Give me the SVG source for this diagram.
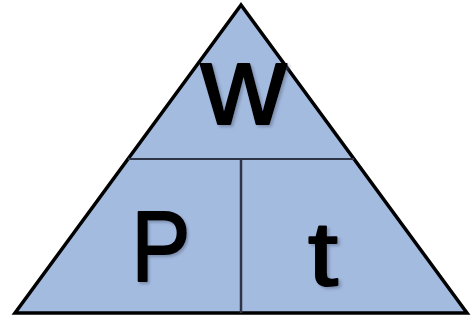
<svg xmlns="http://www.w3.org/2000/svg" width="471" height="320" viewBox="0 0 471 320">
  <defs>
    <style>
      .tri { fill: #a4bbe0; stroke: #000; stroke-width: 3.5; stroke-linejoin: miter; }
      .div { stroke: #2e3546; fill: none; }
      .lbl { font-family: "Liberation Sans", Arial, sans-serif; fill: #000; stroke: #000; stroke-width: 2; stroke-linejoin: round; text-anchor: middle; filter: url(#sh); }
    </style>
    <filter id="sh" x="-20%" y="-20%" width="150%" height="150%">
      <feDropShadow dx="2" dy="2" stdDeviation="1.5" flood-color="#4a5670" flood-opacity="0.45"/>
    </filter>
  </defs>
  <g id="triangle">
    <polygon class="tri" points="241,5 15,313 467,313"/>
  </g>
  <g id="connectors">
    <line class="div" x1="128" y1="159" x2="354" y2="159" stroke-width="2"/>
    <line class="div" x1="241" y1="159" x2="241" y2="313" stroke-width="2.5" stroke="#151a24"/>
  </g>
  <g id="node-w">
    <text class="lbl" transform="translate(243.5,124) scale(1.04,1)" x="0" y="0" font-size="114">w</text>
  </g>
  <g id="node-P">
    <text class="lbl" transform="translate(161,281) scale(0.88,1)" x="0" y="0" font-size="101">P</text>
  </g>
  <g id="node-t">
    <text class="lbl" transform="translate(323,285) scale(1.2,1)" x="0" y="0" font-size="90">t</text>
  </g>
</svg>
